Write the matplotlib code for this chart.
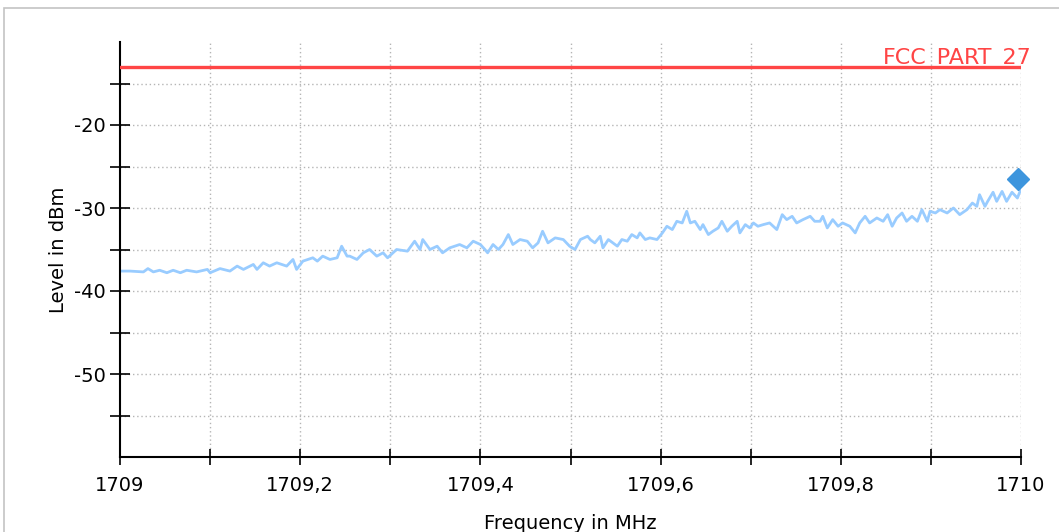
import matplotlib
matplotlib.use("Agg")
import matplotlib.pyplot as plt
from matplotlib.patches import Rectangle

# ---- data ----
freq_offset_mhz = [
    0.000, 0.011, 0.026, 0.031, 0.037, 0.044, 0.052, 0.059, 0.067, 0.074,
    0.085, 0.097, 0.100, 0.111, 0.122, 0.130, 0.137, 0.148, 0.152, 0.159,
    0.166, 0.174, 0.185, 0.192, 0.196, 0.203, 0.214, 0.219, 0.225, 0.233,
    0.241, 0.246, 0.252,
    0.255, 0.263, 0.270, 0.277, 0.285, 0.292, 0.297, 0.307, 0.319, 0.327,
    0.333, 0.336, 0.344, 0.352, 0.358, 0.366, 0.377, 0.385, 0.392, 0.400,
    0.405, 0.408, 0.414, 0.420, 0.425, 0.431, 0.436, 0.444, 0.452, 0.458,
    0.464, 0.469, 0.475, 0.483, 0.492, 0.499, 0.505, 0.511, 0.519,
    0.522, 0.527, 0.533, 0.536, 0.542, 0.547, 0.552, 0.557, 0.563, 0.568,
    0.574, 0.577, 0.583, 0.588, 0.596, 0.602, 0.607, 0.613, 0.618, 0.624,
    0.629, 0.633, 0.638, 0.644, 0.647, 0.653, 0.658, 0.664, 0.668, 0.674,
    0.679, 0.685, 0.688, 0.694, 0.699, 0.703, 0.708, 0.714, 0.721, 0.729,
    0.735, 0.740, 0.746, 0.751, 0.758, 0.766, 0.771,
    0.777, 0.780, 0.785, 0.791, 0.797, 0.802, 0.810, 0.816, 0.821, 0.827,
    0.832, 0.840, 0.847, 0.852, 0.857, 0.862, 0.868, 0.873, 0.879, 0.885,
    0.890, 0.896, 0.899, 0.905, 0.910, 0.918, 0.925, 0.932, 0.940, 0.946,
    0.951, 0.954, 0.960, 0.963, 0.969, 0.973, 0.979, 0.984, 0.990, 0.996,
    1.000,
]
level_dbm = [
    -37.6, -37.6, -37.7, -37.3, -37.7, -37.5, -37.8, -37.5, -37.8, -37.5,
    -37.7, -37.4, -37.8, -37.3, -37.6, -37.0, -37.4, -36.8, -37.4, -36.6,
    -37.0, -36.6, -37.0, -36.2, -37.4, -36.4, -36.0, -36.4, -35.8, -36.2,
    -36.0, -34.6, -35.8,
    -35.8, -36.2, -35.4, -35.0, -35.8, -35.4, -36.0, -35.0, -35.2, -34.0,
    -35.0, -33.8, -35.0, -34.6, -35.4, -34.8, -34.4, -34.8, -34.0, -34.4,
    -35.0, -35.4, -34.4, -35.0, -34.4, -33.2, -34.4, -33.8, -34.0, -34.8,
    -34.2, -32.8, -34.2, -33.6, -33.8, -34.6, -35.0, -33.8, -33.4,
    -33.8, -34.2, -33.4, -34.8, -33.8, -34.2, -34.6, -33.8, -34.0, -33.2,
    -33.6, -33.0, -33.8, -33.6, -33.8, -33.0, -32.2, -32.6, -31.6, -31.8,
    -30.4, -31.8, -31.6, -32.6, -32.0, -33.2, -32.8, -32.4, -31.6, -32.8,
    -32.2, -31.6, -33.0, -32.0, -32.4, -31.8, -32.2, -32.0, -31.8, -32.6,
    -30.8, -31.4, -31.0, -31.8, -31.4, -31.0, -31.6,
    -31.6, -31.0, -32.4, -31.4, -32.2, -31.8, -32.2, -33.0, -31.8, -31.0,
    -31.8, -31.2, -31.6, -30.8, -32.2, -31.2, -30.6, -31.6, -31.0, -31.6,
    -30.2, -31.6, -30.4, -30.6, -30.2, -30.6, -30.0, -30.8, -30.2, -29.4,
    -29.8, -28.4, -29.8, -29.2, -28.1, -29.2, -28.0, -29.2, -28.1, -28.8,
    -27.7,
]
start_mhz = 1709.0
limit_dbm = -13.0
limit_label = "FCC_PART_27"
peak_freq_mhz = 1709.997
peak_level_dbm = -26.5
x_ticks = [1709.0, 1709.2, 1709.4, 1709.6, 1709.8, 1710.0]
x_tick_labels = ["1709", "1709,2", "1709,4", "1709,6", "1709,8", "1710"]
y_ticks = [-20, -30, -40, -50]
y_tick_labels = ["-20", "-30", "-40", "-50"]

freqs = [start_mhz + f for f in freq_offset_mhz]

plt.rcParams["font.family"] = ["DejaVu Sans"]

# ---- figure ----
W, H = 1059, 532
fig = plt.figure(figsize=(W / 100, H / 100), dpi=100)
fig.patch.set_facecolor("white")
fig.patches.append(Rectangle((4 / W, -0.1), 1.2, 1 - 8 / H + 0.1,
                             transform=fig.transFigure, fill=False,
                             edgecolor="#c4c4c4", linewidth=1.2))

ax = fig.add_axes([120 / W, 75 / H, 901 / W, 415 / H])
ax.set_xlim(1709.0, 1710.0)
ax.set_ylim(-60, -10)

for s in ("top", "right"):
    ax.spines[s].set_visible(False)
for s in ("left", "bottom"):
    ax.spines[s].set_linewidth(1.5)
    ax.spines[s].set_color("black")

ax.set_xticks([1709.0 + 0.1 * i for i in range(11)], minor=True)
ax.set_xticks(x_ticks)
ax.set_xticklabels(x_tick_labels)
ax.set_yticks([-55, -45, -35, -25, -15], minor=True)
ax.set_yticks(y_ticks)
ax.set_yticklabels(y_tick_labels)

ax.tick_params(axis="x", which="both", direction="inout", length=11, width=1.2,
               pad=8, labelsize=14)
ax.tick_params(axis="y", which="both", direction="inout", length=15, width=1.2,
               pad=3, labelsize=14)

# grid
for i in range(1, 11):
    ax.axvline(1709.0 + 0.1 * i, color="#b5b5b5", linestyle=(0, (1, 2)),
               linewidth=1, zorder=0)
for v in range(-55, -10, 5):
    ax.axhline(v, color="#b5b5b5", linestyle=(0, (1, 2)), linewidth=1, zorder=0)

ax.plot(freqs, level_dbm, color="#99ccff", linewidth=2.0, zorder=2)
ax.axhline(limit_dbm, color="#ff4545", linewidth=2.4, zorder=3)
ax.text(1.012, -12.6, limit_label, transform=ax.get_yaxis_transform(),
        color="#ff4545", fontsize=16, ha="right", va="baseline", clip_on=False)
ax.plot([peak_freq_mhz], [peak_level_dbm], marker="D", markersize=11,
        color="#3d95dd", zorder=4, clip_on=False)

ax.set_ylabel("Level in dBm", fontsize=14, labelpad=4)
ax.set_xlabel("Frequency in MHz", fontsize=14, labelpad=14)

fig.savefig("out.png", dpi=100)
